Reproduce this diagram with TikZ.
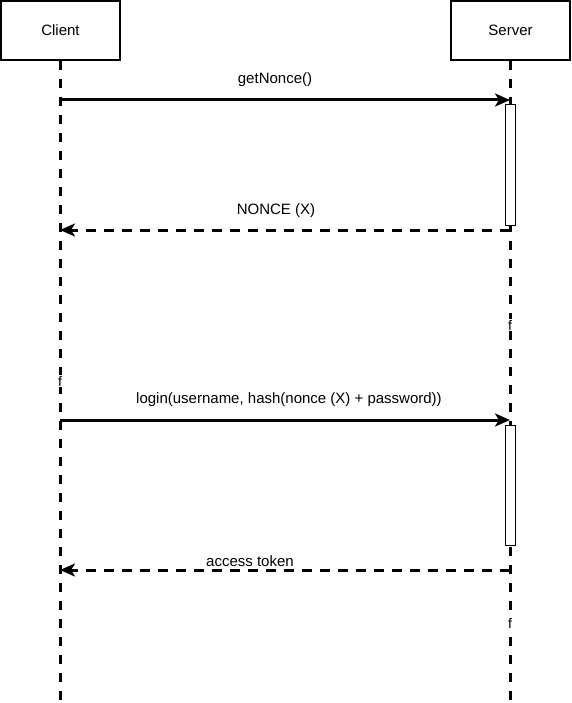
\documentclass[tikz,border=0pt]{standalone}
\usepackage{fontspec}
\setmainfont{Liberation Sans}
\usetikzlibrary{arrows.meta}
\begin{document}
\begin{tikzpicture}[x=1pt,y=-1pt,
  actor/.style={draw=black,line width=1.3pt,fill=white,minimum width=119pt,minimum height=59pt,inner sep=0pt,font=\fontsize{15}{18}\selectfont},
  lifeline/.style={line width=3pt,dash pattern=on 9pt off 9pt},
  actbox/.style={draw=black,line width=1pt,fill=white,minimum width=10pt,minimum height=120pt,inner sep=0pt},
  msg/.style={line width=3pt,-{Stealth[length=15pt,width=13pt,inset=4pt]}},
  ret/.style={msg,dash pattern=on 10pt off 8pt},
  lbl/.style={font=\fontsize{15}{18}\selectfont,inner sep=1pt},
  fmark/.style={fill=white,inner sep=1pt,font=\fontsize{14}{16}\selectfont}]
\useasboundingbox (0,0) rectangle (571,703);
% actors
\node[actor] (client) at (60.5,30.5) {Client};
\node[actor] (server) at (510.5,30.5) {Server};
% lifeline ends
\coordinate (cEnd) at (60,700);
\coordinate (sEnd) at (510,700);
\draw[lifeline] (60,61) -- (cEnd);
\draw[lifeline] (510,61) -- (sEnd);
% activation boxes
\node[actbox] (act1) at (510,165) {};
\node[actbox] (act2) at (510,485) {};
% f marks
\node[fmark] (f1) at (510,325) {f};
\node[fmark] (f2) at (60,381) {f};
\node[fmark] (f3) at (510,623) {f};
% message endpoints
\coordinate (m1s) at (60,100);
\coordinate (m1e) at (510,100);
\coordinate (m2s) at (510,230);
\coordinate (m2e) at (60,230);
\coordinate (m3s) at (60,420);
\coordinate (m3e) at (510,420);
\coordinate (m4s) at (510,570);
\coordinate (m4e) at (60,570);
\draw[msg] (m1s) -- (m1e);
\draw[ret] (m2s) -- (m2e);
\draw[msg] (m3s) -- (m3e);
\draw[ret] (m4s) -- (m4e);
% labels
\node[lbl] (l1) at (275,80) {getNonce()};
\node[lbl] (l2) at (276,211) {NONCE (X)};
\node[lbl] (l3) at (289,400) {login(username, hash(nonce (X) + password))};
\node[lbl] (l4) at (250,561) {access token};
\end{tikzpicture}
\end{document}
